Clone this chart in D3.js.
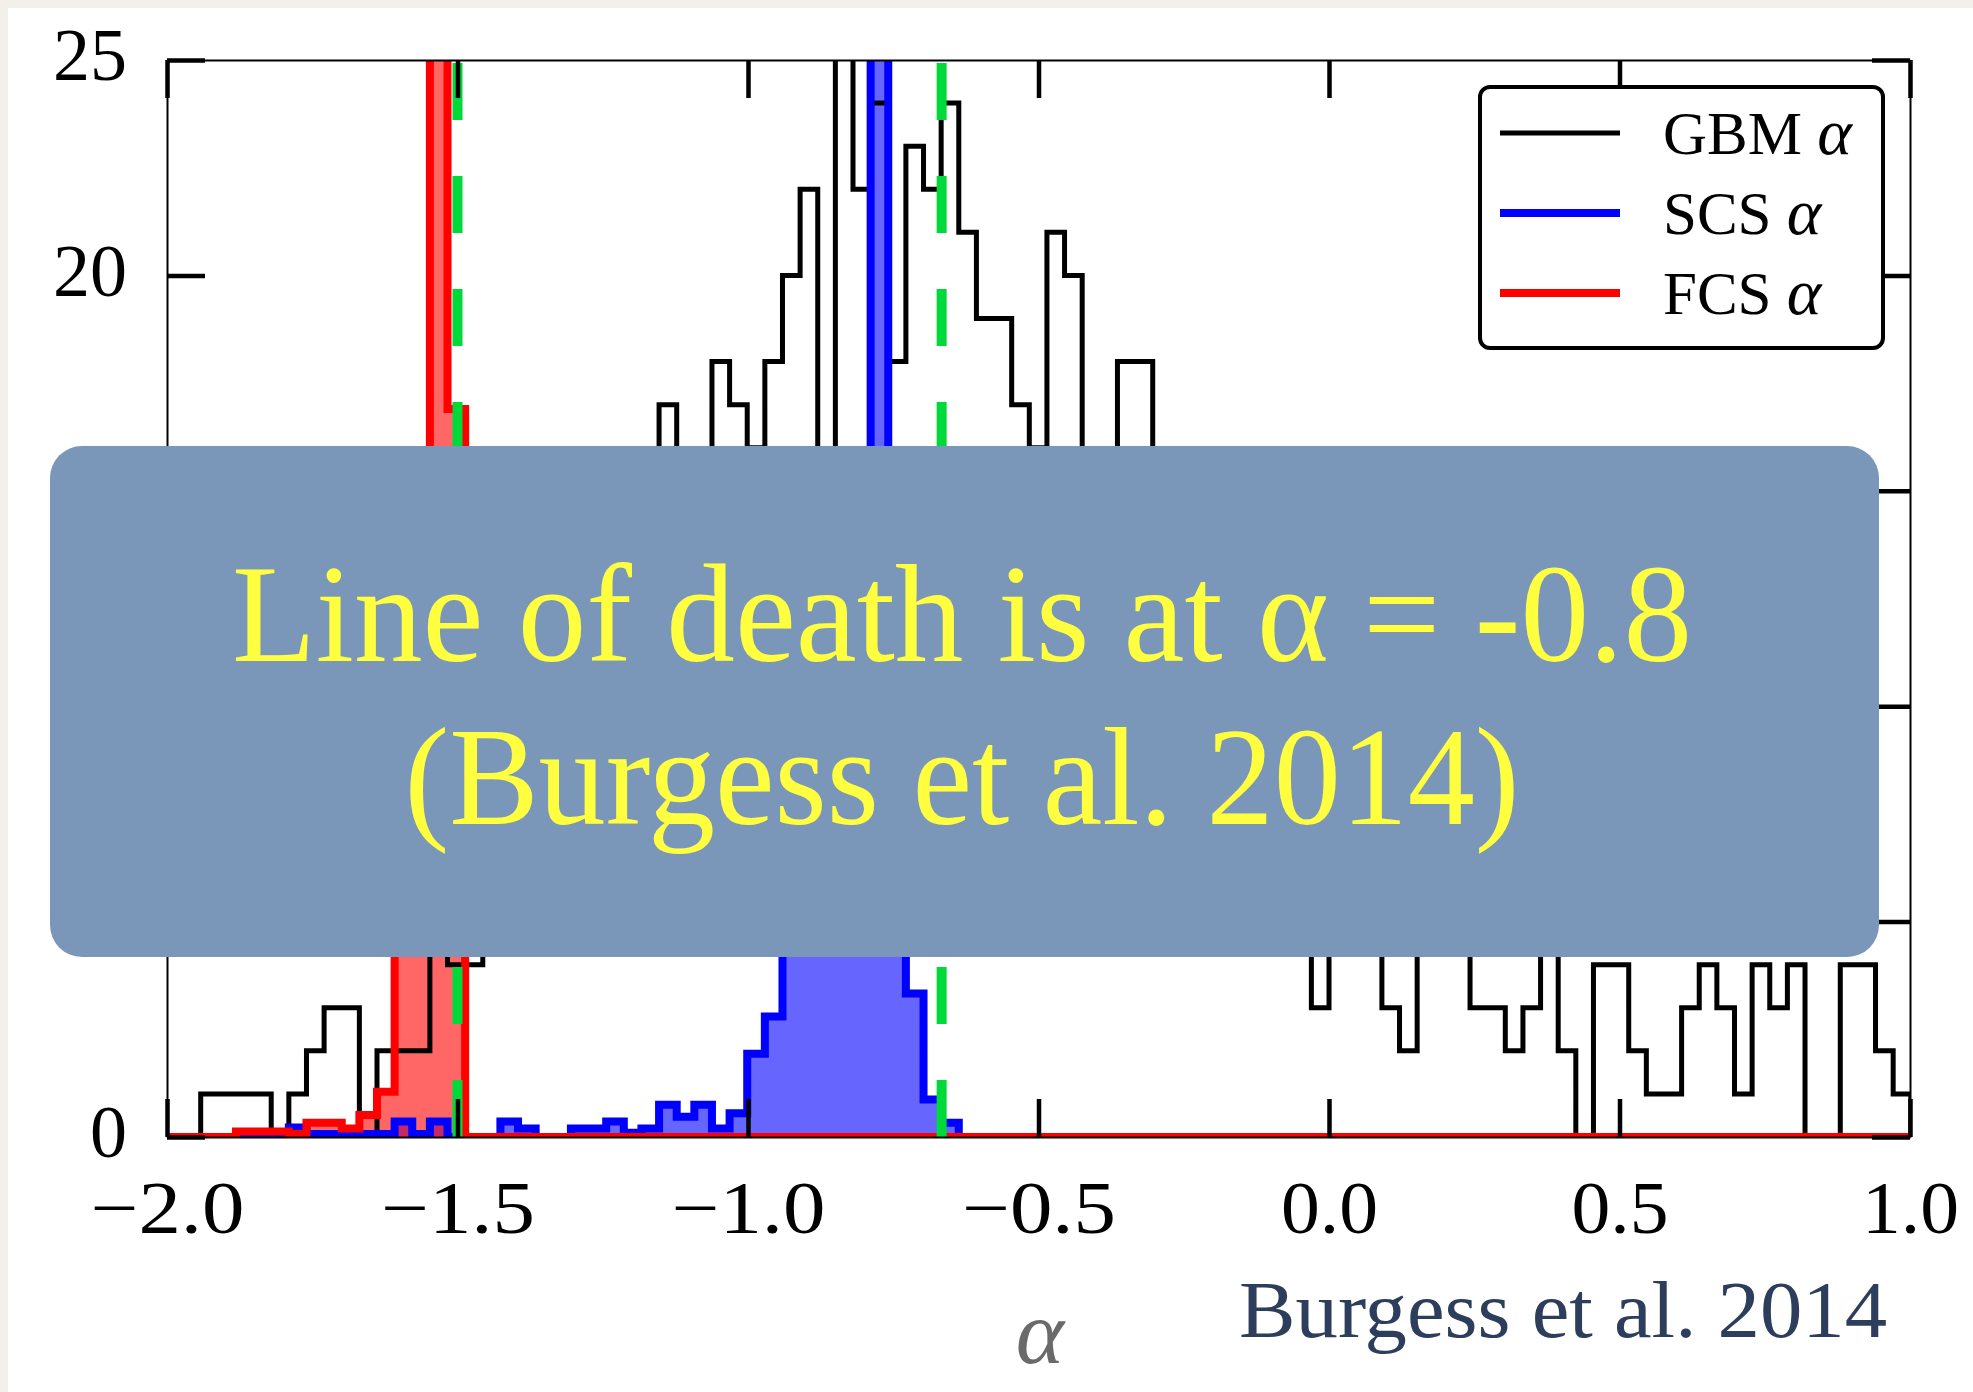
<!DOCTYPE html>
<html><head><meta charset="utf-8">
<script src="https://cdn.jsdelivr.net/npm/d3@7"></script>
<style>
html,body{margin:0;padding:0;background:#F3F0E9;}
svg{display:block;}
</style></head><body>
<svg id="chart" width="1973" height="1392"></svg>
<script>
// ------------------------- DATA -------------------------
// common histogram bin grid (alpha units)
const binStart = -2.002688;
const binWidth = 0.030344;

// GBM alpha counts (black step histogram)
const gbmCounts = [
  0, 0,
  1, 1, 1, 1, 0, 1, 2, 3, 3, 0,
  2, 2, 2, 12, 4, 4, 7, 6, 9, 8,
  10, 9, 12, 11, 14, 13, 17, 15, 14, 18,
  17, 16, 18, 20, 22, 15, 26, 22, 24, 18,
  23, 22, 24, 21, 19, 19, 17, 16, 21, 20,
  15, 14, 18, 18, 13, 14, 12, 11, 12, 10,
  9, 10, 8, 3, 7, 9, 6, 3, 2, 6,
  8, 5, 3, 3, 2, 3, 5, 2, 0, 4,
  4, 2, 1, 1, 3, 4, 3, 1, 4, 3,
  4, 0, 0, 4, 4, 2, 1
];

// SCS alpha (blue filled histogram)
const scsCounts = [
  0, 0,
  0, 0, 0, 0, 0, 0.22, 0.07, 0.07, 0.07, 0.07,
  0.07, 0.36, 0.07, 0.36, 0, 0, 0, 0.36, 0.2, 0,
  0, 0.2, 0.2, 0.36, 0.1, 0.2, 0.75, 0.47, 0.75, 0.2,
  0.55, 1.93, 2.8, 5.5, 8.5, 12, 14.5, 15.5, 30, 9,
  3.33, 0.87, 0.33, 0, 0, 0, 0, 0, 0, 0,
  0, 0, 0, 0, 0, 0, 0, 0, 0, 0,
  0, 0, 0, 0, 0, 0, 0, 0, 0, 0,
  0, 0, 0, 0, 0, 0, 0, 0, 0, 0,
  0, 0, 0, 0, 0, 0, 0, 0, 0, 0,
  0, 0, 0, 0, 0, 0, 0
];

// FCS alpha (red filled histogram)
const fcsCounts = [
  0, 0,
  0, 0, 0.13, 0.13, 0.13, 0.07, 0.33, 0.33, 0.2, 0.51,
  1.05, 7, 13, 40, 16.9, 0, 0, 0, 0, 0,
  0, 0, 0, 0, 0, 0, 0, 0, 0, 0,
  0, 0, 0, 0, 0, 0, 0, 0, 0, 0,
  0, 0, 0, 0, 0, 0, 0, 0, 0, 0,
  0, 0, 0, 0, 0, 0, 0, 0, 0, 0,
  0, 0, 0, 0, 0, 0, 0, 0, 0, 0,
  0, 0, 0, 0, 0, 0, 0, 0, 0, 0,
  0, 0, 0, 0, 0, 0, 0, 0, 0, 0,
  0, 0, 0, 0, 0, 0, 0
];

// synchrotron lines of death (fast / slow cooling)
const deathLines = [-1.5, -0.6667];

const xDomain = [-2.0, 1.0];
const yDomain = [0, 25];
const xTicks = [-2.0, -1.5, -1.0, -0.5, 0.0, 0.5, 1.0];
const xTickLabels = ["\u22122.0", "\u22121.5", "\u22121.0", "\u22120.5", "0.0", "0.5", "1.0"];
const yTicks = [0, 5, 10, 15, 20, 25];
const yTickLabels = ["0", "5", "10", "15", "20", "25"];
const legendNames = ["GBM", "SCS", "FCS"];
const xLabel = "\u03B1";
const overlayLines = ["Line of death is at \u03B1 = -0.8", "(Burgess et al. 2014)"];
const creditText = "Burgess et al. 2014";

// ------------------------- STYLE -------------------------
const style = {
  gbm: {stroke: "#000000", width: 5},
  scs: {stroke: "#0000FF", fill: "#0000FF", width: 8},
  fcs: {stroke: "#FF0000", fill: "#FF0000", width: 8},
  green: "#00D93A",
  overlay: "#7A97BA",
  overlayText: "#FFFF40",
  credit: "#2C3E5C",
  cm: "'Liberation Serif', 'DejaVu Serif', serif"
};

// ------------------------- DRAW -------------------------
const svg = d3.select("#chart");
svg.append("rect").attr("x", 8).attr("y", 8).attr("width", 1965).attr("height", 1384).attr("fill", "#ffffff");

const x = d3.scaleLinear().domain(xDomain).range([167, 1910]);
const y = d3.scaleLinear().domain(yDomain).range([1137, 60]);

svg.append("defs").append("clipPath").attr("id", "plotclip")
  .append("rect").attr("x", x(xDomain[0])).attr("y", y(yDomain[1]))
  .attr("width", x(xDomain[1]) - x(xDomain[0])).attr("height", y(yDomain[0]) - y(yDomain[1]));

function stepPoints(counts) {
  const pts = [[binStart, 0]];
  counts.forEach((c, i) => {
    const e0 = binStart + i * binWidth, e1 = binStart + (i + 1) * binWidth;
    pts.push([e0, c]); pts.push([e1, c]);
  });
  pts.push([binStart + counts.length * binWidth, 0]);
  return pts;
}
const line = d3.line().x(d => x(d[0])).y(d => y(d[1]));

const plot = svg.append("g").attr("clip-path", "url(#plotclip)");

// fills
plot.append("path").attr("d", line(stepPoints(scsCounts)) + "Z")
  .attr("fill", style.scs.fill).attr("fill-opacity", 0.6).attr("stroke", "none");
plot.append("path").attr("d", line(stepPoints(fcsCounts)) + "Z")
  .attr("fill", style.fcs.fill).attr("fill-opacity", 0.6).attr("stroke", "none");

// GBM black step
plot.append("path").attr("d", line(stepPoints(gbmCounts)))
  .attr("fill", "none").attr("stroke", style.gbm.stroke).attr("stroke-width", style.gbm.width)
  .attr("stroke-linejoin", "miter");

// axes
function styleAxis(g) {
  g.select(".domain").attr("stroke", "#000").attr("stroke-width", 2);
  g.selectAll(".tick line").attr("stroke", "#000").attr("stroke-width", 4.5);
  g.selectAll(".tick text").attr("fill", "#000").attr("font-family", style.cm).attr("font-size", 74);
}
const xAxisG = svg.append("g").attr("transform", `translate(0,${y(0)})`)
  .call(d3.axisBottom(x).tickValues(xTicks).tickFormat((d, i) => xTickLabels[i])
    .tickSizeInner(-38).tickSizeOuter(0).tickPadding(43))
  .call(styleAxis);
xAxisG.selectAll(".tick text")
  .attr("textLength", d => d < 0 ? 154 : 97)
  .attr("lengthAdjust", "spacingAndGlyphs");
svg.append("g").attr("transform", `translate(0,${y(25)})`)
  .call(d3.axisTop(x).tickValues(xTicks).tickFormat("").tickSizeInner(-38).tickSizeOuter(0))
  .call(styleAxis);
const yAxisG = svg.append("g").attr("transform", `translate(${x(-2)},0)`)
  .call(d3.axisLeft(y).tickValues(yTicks).tickFormat((d, i) => yTickLabels[i])
    .tickSizeInner(-38).tickSizeOuter(0).tickPadding(40))
  .call(styleAxis);
yAxisG.selectAll(".tick text").attr("dy", "0.27em");
svg.append("g").attr("transform", `translate(${x(1)},0)`)
  .call(d3.axisRight(y).tickValues(yTicks).tickFormat("").tickSizeInner(-38).tickSizeOuter(0))
  .call(styleAxis);

// colored strokes
plot.append("path").attr("d", line(stepPoints(scsCounts)))
  .attr("fill", "none").attr("stroke", style.scs.stroke).attr("stroke-width", style.scs.width);
plot.append("path").attr("d", line(stepPoints(fcsCounts)))
  .attr("fill", "none").attr("stroke", style.fcs.stroke).attr("stroke-width", style.fcs.width);

// lines of death
plot.selectAll("line.death").data(deathLines).enter().append("line")
  .attr("x1", d => x(d)).attr("x2", d => x(d)).attr("y1", y(0)).attr("y2", y(25))
  .attr("stroke", style.green).attr("stroke-width", 10).attr("stroke-dasharray", "57,56");

// legend
const leg = svg.append("g");
leg.append("rect").attr("x", 1480).attr("y", 87).attr("width", 403).attr("height", 261)
  .attr("rx", 10).attr("fill", "#fff").attr("stroke", "#000").attr("stroke-width", 4);
const legStyles = [style.gbm, style.scs, style.fcs];
legendNames.forEach((n, i) => {
  const ly = 133 + i * 80;
  leg.append("line").attr("x1", 1500).attr("x2", 1620).attr("y1", ly).attr("y2", ly)
    .attr("stroke", legStyles[i].stroke).attr("stroke-width", i === 0 ? 5 : 8);
  const t = leg.append("text").attr("x", 1663).attr("y", ly + 21)
    .attr("font-family", style.cm).attr("font-size", 61).attr("fill", "#000");
  t.append("tspan").text(n + " ");
  t.append("tspan").attr("font-style", "italic").attr("font-size", 66).text("\u03B1");
});

// x label
svg.append("text").attr("x", 1040).attr("y", 1363).attr("text-anchor", "middle")
  .attr("font-family", style.cm).attr("font-style", "italic").attr("font-size", 92)
  .attr("fill", "#6a6a6a").text(xLabel);

// overlay box
svg.append("rect").attr("x", 50).attr("y", 446).attr("width", 1829).attr("height", 511)
  .attr("rx", 32).attr("fill", style.overlay);
const ovBase = [661, 824], ovLen = [1460, 1115];
overlayLines.forEach((s, i) => {
  svg.append("text").attr("x", 962).attr("y", ovBase[i]).attr("text-anchor", "middle")
    .attr("font-family", "'Liberation Serif', serif").attr("font-size", 139)
    .attr("fill", style.overlayText)
    .attr("textLength", ovLen[i]).attr("lengthAdjust", "spacingAndGlyphs")
    .text(s);
});

// credit
svg.append("text").attr("x", 1239).attr("y", 1337)
  .attr("font-family", "'Liberation Serif', serif").attr("font-size", 80)
  .attr("fill", style.credit).attr("textLength", 648).attr("lengthAdjust", "spacingAndGlyphs")
  .text(creditText);
</script>
</body></html>
